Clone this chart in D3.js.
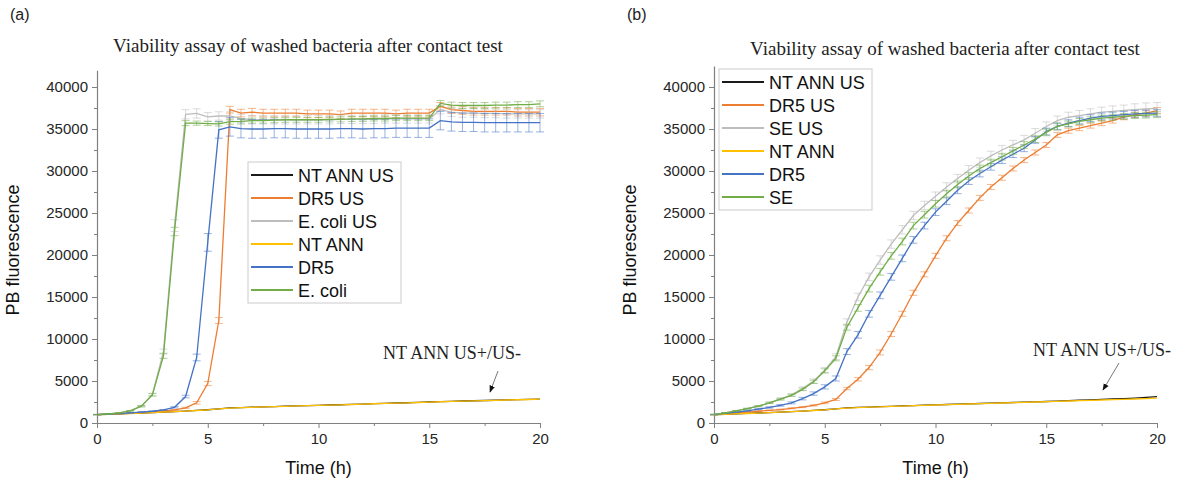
<html>
<head>
<meta charset="utf-8">
<script src="https://cdn.jsdelivr.net/npm/d3@7"></script>
<style>
  body { margin: 0; background: #fff; }
  text { font-family: "Liberation Sans", Arial, sans-serif; }
  .serif { font-family: "Liberation Serif", "DejaVu Serif", serif; }
</style>
</head>
<body>
<div id="chart"></div>
<script>
// time points (h), one every half hour
var time = [0,0.5,1,1.5,2,2.5,3,3.5,4,4.5,5,5.5,6,6.5,7,7.5,8,8.5,9,9.5,10,10.5,11,11.5,12,12.5,13,13.5,14,14.5,15,15.5,16,16.5,17,17.5,18,18.5,19,19.5,20];

// ---- panel (a) ----
var aNtUs   = [1000,1040,1090,1140,1190,1240,1300,1360,1420,1500,1580,1680,1790,1840,1880,1920,1950,2000,2040,2070,2100,2140,2170,2210,2250,2300,2340,2380,2410,2450,2500,2540,2580,2620,2650,2680,2710,2750,2780,2810,2850];
var aDr5Us  = [1000,1050,1100,1180,1260,1340,1420,1550,1800,2400,4700,12200,37300,36900,37000,36900,36900,36900,36900,36800,36800,36800,36700,36900,36900,36900,36900,36800,36900,36900,36900,37700,37300,37200,37100,37100,37100,37100,37000,37000,37000];
var aEcoliUs= [1000,1080,1200,1450,2000,3400,8500,23500,36750,36850,36450,36550,36550,36250,36100,36100,36100,36100,36100,36100,36100,36100,36150,36150,36150,36150,36200,36200,36200,36200,36200,37300,37000,36900,36900,36850,36850,36800,36800,36800,36800];
var aNt     = [1000,1030,1080,1130,1180,1230,1290,1350,1410,1490,1570,1670,1780,1830,1870,1910,1940,1990,2030,2060,2090,2130,2160,2200,2240,2290,2330,2370,2400,2440,2490,2530,2570,2610,2640,2670,2700,2740,2770,2800,2840];
var aDr5    = [1000,1050,1110,1200,1300,1400,1550,1870,3150,7800,21500,34900,35250,35050,35000,35000,35050,35050,35000,35000,35000,35000,35050,35050,35000,35050,35050,35100,35100,35100,35100,36000,35850,35800,35800,35750,35750,35750,35750,35750,35750];
var aEcoli  = [1000,1080,1200,1450,2000,3350,8000,22800,35700,35700,35650,35600,35870,35900,36000,36000,36050,36100,36100,36100,36100,36150,36150,36200,36200,36250,36250,36300,36300,36300,36300,38050,37850,37800,37800,37800,37850,37850,37900,37900,38000];

var aDr5UsErr  = [20,20,20,20,30,30,40,50,80,150,250,350,400,450,450,450,450,450,450,450,450,450,450,450,450,450,450,450,450,450,450,450,450,450,450,450,450,450,450,450,450];
var aEcoliUsErr= [20,20,30,40,80,150,300,700,550,550,500,500,500,500,500,500,500,500,500,500,500,500,500,500,500,500,500,500,500,500,500,500,500,500,500,500,500,500,500,500,500];
var aDr5Err    = [20,20,20,20,30,40,60,80,150,400,1050,1000,1100,1100,1100,1100,1100,1100,1100,1100,1100,1100,1100,1100,1100,1100,1100,1100,1100,1100,1100,1100,1100,1100,1100,1100,1100,1100,1100,1100,1100];
var aEcoliErr  = [20,20,30,40,80,150,300,500,300,250,250,250,300,300,300,300,300,300,300,300,300,300,300,300,300,300,300,300,300,300,300,350,350,350,350,350,350,350,350,350,350];

// ---- panel (b) ----
var bNtUs   = [1000,1040,1090,1140,1190,1240,1300,1360,1420,1500,1580,1680,1800,1860,1900,1950,1990,2040,2080,2120,2160,2200,2240,2280,2320,2360,2400,2440,2480,2520,2560,2610,2660,2710,2760,2810,2860,2910,2970,3050,3130];
var bDr5Us  = [1000,1100,1200,1300,1400,1500,1600,1750,1900,2100,2400,2800,4100,5200,6600,8400,10600,13000,15500,17700,19900,22000,23800,25300,26800,28100,29200,30300,31300,32200,33100,34300,34800,35100,35400,35700,36000,36400,36700,36900,37200];
var bSeUs   = [1000,1200,1450,1700,2000,2400,2850,3350,4100,5000,6300,7900,12000,15000,17400,19400,21300,23000,24700,25900,27000,28100,29100,30100,31000,31800,32500,33100,33700,34500,35300,36000,36400,36600,36800,37000,37100,37200,37300,37400,37450];
var bNt     = [1000,1030,1080,1130,1180,1230,1290,1350,1410,1490,1570,1670,1780,1840,1880,1930,1970,2020,2060,2100,2140,2180,2220,2260,2300,2340,2380,2420,2460,2500,2540,2580,2620,2660,2700,2740,2780,2820,2860,2900,2950];
var bDr5    = [1000,1150,1300,1450,1650,1850,2100,2400,2900,3500,4300,5300,8500,10500,13000,15200,17400,19600,21800,23500,25100,26400,27700,28800,29700,30500,31300,32000,32700,33700,34700,35300,35700,36000,36300,36500,36600,36700,36800,36850,36900];
var bSe     = [1000,1200,1450,1700,2000,2400,2850,3300,4000,4900,6200,7700,11400,13700,16000,18000,19900,21600,23500,24800,26100,27300,28400,29400,30300,31000,31700,32400,33100,33800,34600,35300,35600,35900,36100,36300,36400,36500,36600,36650,36700];

var bDr5UsErr = [30,30,30,30,40,40,50,60,70,80,100,120,150,200,250,300,300,300,300,300,300,300,300,300,300,300,300,300,300,300,300,300,300,300,300,300,300,300,300,350,350];
var bSeUsErr  = [30,40,50,60,80,100,120,150,200,250,300,350,400,450,450,500,500,500,500,500,500,500,500,550,550,550,550,550,550,550,550,550,600,600,600,600,650,650,700,700,700];
var bDr5Err   = [30,30,40,50,60,80,100,120,150,200,250,300,350,400,400,400,400,400,400,400,400,400,400,400,400,400,400,400,400,400,400,400,400,400,400,400,400,400,400,400,400];
var bSeErr    = [30,30,40,50,60,80,100,120,150,200,250,300,350,400,400,400,400,400,400,400,400,400,400,400,400,400,400,400,400,400,400,400,350,350,350,350,350,350,350,350,350];

var colors = ["#1a1a1a", "#ed7d31", "#bdbdbd", "#ffc000", "#4472c4", "#70ad47"];
var namesA = ["NT ANN US", "DR5 US", "E. coli US", "NT ANN", "DR5", "E. coli"];
var namesB = ["NT ANN US", "DR5 US", "SE US", "NT ANN", "DR5", "SE"];
var yTicks = [0,5000,10000,15000,20000,25000,30000,35000,40000];
var xTicks = [0,5,10,15,20];

var title = "Viability assay of washed bacteria after contact test";

var svg = d3.select("#chart").append("svg")
    .attr("width", 1200)
    .attr("height", 484);

svg.append("defs").append("marker")
    .attr("id", "arrow")
    .attr("viewBox", "0 0 10 10")
    .attr("refX", 9).attr("refY", 5)
    .attr("markerWidth", 7).attr("markerHeight", 7)
    .attr("markerUnits", "userSpaceOnUse")
    .attr("orient", "auto")
  .append("path")
    .attr("d", "M0,1 L10,5 L0,9 Z")
    .attr("fill", "#111");

function panel(opt) {
  var g = svg.append("g");
  var x = d3.scaleLinear().domain([0, 20]).range([opt.x0, opt.x1]);
  var y = d3.scaleLinear().domain([0, opt.yTop]).range([423, 423 - opt.yTop * 0.0084]);

  // minor ticks
  var minorY = d3.range(2500, opt.yTop, 5000);
  var minorX = [2.5, 7.5, 12.5, 17.5];
  g.append("g").attr("transform", "translate(" + opt.x0 + ",0)")
    .call(d3.axisLeft(y).tickValues(minorY).tickSize(3).tickFormat(""))
    .call(function(a) { a.select(".domain").remove(); a.selectAll("line").attr("stroke", "#808080"); });
  g.append("g").attr("transform", "translate(0,423)")
    .call(d3.axisBottom(x).tickValues(minorX).tickSize(3).tickFormat(""))
    .call(function(a) { a.select(".domain").remove(); a.selectAll("line").attr("stroke", "#808080"); });

  var ya = g.append("g").attr("transform", "translate(" + opt.x0 + ",0)")
    .call(d3.axisLeft(y).tickValues(yTicks).tickSize(5).tickSizeOuter(0).tickPadding(4).tickFormat(d3.format("d")));
  var xa = g.append("g").attr("transform", "translate(0,423)")
    .call(d3.axisBottom(x).tickValues(xTicks).tickSize(5).tickSizeOuter(0).tickPadding(5));
  [ya, xa].forEach(function(a) {
    a.select(".domain").attr("stroke", "#808080").attr("stroke-width", 1.2);
    a.selectAll("line").attr("stroke", "#808080");
    a.selectAll("text").attr("fill", "#262626").style("font-size", "15px")
      .style("font-family", "'Liberation Sans', Arial, sans-serif");
  });

  // curves
  var line = d3.line().x(function(d) { return x(d.t); }).y(function(d) { return y(d.v); });
  opt.series.forEach(function(s, i) {
    var pts = time.map(function(t, k) { return { t: t, v: s[k], e: opt.errs[i] ? opt.errs[i][k] : 0 }; });
    var sg = g.append("g");
    if (opt.errs[i]) {
      var eb = sg.selectAll(".eb").data(pts).enter().append("g")
        .attr("stroke", colors[i]).attr("stroke-opacity", 0.55).attr("stroke-width", 1);
      eb.append("line")
        .attr("x1", function(d) { return x(d.t); }).attr("x2", function(d) { return x(d.t); })
        .attr("y1", function(d) { return y(d.v - d.e); }).attr("y2", function(d) { return y(d.v + d.e); });
      eb.append("line")
        .attr("x1", function(d) { return x(d.t) - 4; }).attr("x2", function(d) { return x(d.t) + 4; })
        .attr("y1", function(d) { return y(d.v + d.e); }).attr("y2", function(d) { return y(d.v + d.e); });
      eb.append("line")
        .attr("x1", function(d) { return x(d.t) - 4; }).attr("x2", function(d) { return x(d.t) + 4; })
        .attr("y1", function(d) { return y(d.v - d.e); }).attr("y2", function(d) { return y(d.v - d.e); });
    }
    sg.append("path").datum(pts)
      .attr("d", line)
      .attr("fill", "none")
      .attr("stroke", colors[i])
      .attr("stroke-width", 1.3);
  });

  // titles
  svg.append("text").attr("class", "serif")
    .attr("x", opt.titleX).attr("y", opt.titleY)
    .attr("text-anchor", "middle").attr("fill", "#222")
    .style("font-size", "19px").text(title);
  svg.append("text")
    .attr("x", opt.x0 - 87).attr("y", 20)
    .attr("fill", "#222").style("font-size", "16px").text(opt.tag);
  svg.append("text")
    .attr("x", (opt.x0 + opt.x1) / 2).attr("y", 474)
    .attr("text-anchor", "middle").attr("fill", "#111")
    .style("font-size", "18px").text("Time (h)");
  svg.append("text")
    .attr("transform", "translate(" + (opt.x0 - 78) + ",250) rotate(-90)")
    .attr("text-anchor", "middle").attr("fill", "#111")
    .style("font-size", "18px").text("PB fluorescence");

  // legend
  var lg = svg.append("g").attr("transform", "translate(" + opt.legX + "," + opt.legY + ")");
  lg.append("rect").attr("width", 153).attr("height", 141)
    .attr("fill", "#fff").attr("stroke", "#d4d4d4").attr("stroke-width", 1.2);
  opt.names.forEach(function(n, i) {
    var yy = 13 + i * 23;
    lg.append("line").attr("x1", 3).attr("x2", 45).attr("y1", yy).attr("y2", yy)
      .attr("stroke", colors[i]).attr("stroke-width", 2);
    lg.append("text").attr("x", 50).attr("y", yy + 6.5)
      .attr("fill", "#111").style("font-size", "18px").text(n);
  });

  // annotation
  svg.append("text").attr("class", "serif")
    .attr("x", opt.noteX).attr("y", opt.noteY)
    .attr("text-anchor", "middle").attr("fill", "#222")
    .style("font-size", "18px").text("NT ANN US+/US-");
  svg.append("line")
    .attr("x1", opt.arrow[0]).attr("y1", opt.arrow[1])
    .attr("x2", opt.arrow[2]).attr("y2", opt.arrow[3])
    .attr("stroke", "#555").attr("stroke-width", 0.8)
    .attr("marker-end", "url(#arrow)");
}

panel({
  tag: "(a)", x0: 97, x1: 540, yTop: 42000,
  series: [aNtUs, aDr5Us, aEcoliUs, aNt, aDr5, aEcoli],
  errs: [null, aDr5UsErr, aEcoliUsErr, null, aDr5Err, aEcoliErr],
  names: namesA, legX: 248, legY: 162,
  titleX: 308, titleY: 52,
  noteX: 452, noteY: 359, arrow: [498, 371, 490, 392]
});
panel({
  tag: "(b)", x0: 714, x1: 1157, yTop: 42500,
  series: [bNtUs, bDr5Us, bSeUs, bNt, bDr5, bSe],
  errs: [null, bDr5UsErr, bSeUsErr, null, bDr5Err, bSeErr],
  names: namesB, legX: 719, legY: 69,
  titleX: 945, titleY: 55,
  noteX: 1102, noteY: 356, arrow: [1119, 363, 1103, 390]
});
</script>
</body>
</html>
